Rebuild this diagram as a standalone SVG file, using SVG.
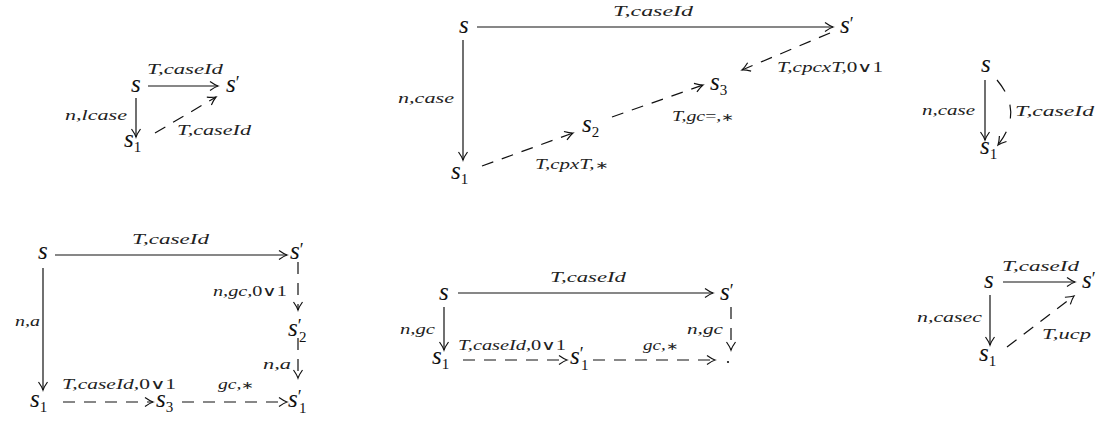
<svg xmlns="http://www.w3.org/2000/svg" width="1097" height="421" viewBox="0 0 1097 421">
<style>
.n{font-family:"Liberation Serif",serif;font-style:italic;font-size:25px;fill:#111}
.l{font-family:"Liberation Serif",serif;font-style:italic;font-size:14px;fill:#222}
.u{font-style:normal}
.a{font-style:normal;font-size:11px}
.sb{font-style:normal;font-size:15px}
.pr{font-style:normal;font-size:18px}
.e{fill:none;stroke:#111;stroke-width:1.2}
.d{stroke-dasharray:12 9}
</style>
<defs>
<marker id="ah" viewBox="-10 -6 12 12" refX="0" refY="0" markerWidth="12" markerHeight="12" markerUnits="userSpaceOnUse" orient="auto">
<path d="M-8,-4.5 Q-3,-1 0,0 Q-3,1 -8,4.5" fill="none" stroke="#111" stroke-width="1.2"/>
</marker>
</defs>
<rect width="1097" height="421" fill="#fff"/>

<g id="connectors">
<line class="e" x1="148" y1="86" x2="218" y2="86" marker-end="url(#ah)"/>
<line class="e" x1="136" y1="98" x2="136" y2="137" marker-end="url(#ah)"/>
<line class="e d" x1="155" y1="133" x2="216" y2="97" marker-end="url(#ah)"/>
<line class="e" x1="477" y1="27" x2="833" y2="27" marker-end="url(#ah)"/>
<line class="e" x1="463" y1="40" x2="463" y2="160" marker-end="url(#ah)"/>
<line class="e d" x1="482" y1="166" x2="573" y2="133" marker-end="url(#ah)"/>
<line class="e d" x1="612" y1="117" x2="703" y2="85" marker-end="url(#ah)"/>
<line class="e d" x1="830" y1="33" x2="742" y2="70" marker-end="url(#ah)"/>
<line class="e" x1="985" y1="80" x2="985" y2="140" marker-end="url(#ah)"/>
<path class="e" d="M997,80 Q1024,112 998,145" stroke-dasharray="14 14" marker-end="url(#ah)"/>
<line class="e" x1="55" y1="255" x2="287" y2="255" marker-end="url(#ah)"/>
<line class="e" x1="43" y1="268" x2="43" y2="390" marker-end="url(#ah)"/>
<line class="e d" x1="63" y1="402" x2="153" y2="402" marker-end="url(#ah)"/>
<line class="e d" x1="182" y1="402" x2="287" y2="402" marker-end="url(#ah)"/>
<line class="e d" x1="298" y1="262" x2="298" y2="310" marker-end="url(#ah)"/>
<line class="e d" x1="298" y1="338" x2="298" y2="378" marker-end="url(#ah)"/>
<line class="e" x1="458" y1="293" x2="713" y2="293" marker-end="url(#ah)"/>
<line class="e" x1="444" y1="307" x2="444" y2="350" marker-end="url(#ah)"/>
<line class="e d" x1="731" y1="307" x2="731" y2="350" marker-end="url(#ah)"/>
<line class="e d" x1="463" y1="360" x2="567" y2="360" marker-end="url(#ah)"/>
<line class="e d" x1="593" y1="360" x2="715" y2="360" marker-end="url(#ah)"/>
<line class="e" x1="1003" y1="282" x2="1075" y2="282" marker-end="url(#ah)"/>
<line class="e" x1="990" y1="295" x2="990" y2="345" marker-end="url(#ah)"/>
<line class="e d" x1="1007" y1="347" x2="1074" y2="296" marker-end="url(#ah)"/>
</g>

<g id="labels">
<text class="l" x="147" y="74" textLength="76" lengthAdjust="spacingAndGlyphs">T,caseId</text>
<text class="l" x="65" y="120" textLength="62" lengthAdjust="spacingAndGlyphs">n,lcase</text>
<text class="l" x="177" y="135" textLength="74" lengthAdjust="spacingAndGlyphs">T,caseId</text>

<text class="l" x="613" y="16" textLength="80" lengthAdjust="spacingAndGlyphs">T,caseId</text>
<text class="l" x="398" y="103" textLength="56" lengthAdjust="spacingAndGlyphs">n,case</text>
<text class="l" x="535" y="169" textLength="73" lengthAdjust="spacingAndGlyphs">T,cpxT,<tspan class="a">∗</tspan></text>
<text class="l" x="672" y="121" textLength="62" lengthAdjust="spacingAndGlyphs">T,gc<tspan class="u">=</tspan>,<tspan class="a">∗</tspan></text>
<text class="l" x="777" y="72" textLength="106" lengthAdjust="spacingAndGlyphs">T,cpcxT,<tspan class="u">0∨1</tspan></text>

<text class="l" x="922" y="115" textLength="53" lengthAdjust="spacingAndGlyphs">n,case</text>
<text class="l" x="1015" y="116" textLength="79" lengthAdjust="spacingAndGlyphs">T,caseId</text>

<text class="l" x="132" y="244" textLength="77" lengthAdjust="spacingAndGlyphs">T,caseId</text>
<text class="l" x="15" y="326" textLength="25" lengthAdjust="spacingAndGlyphs">n,a</text>
<text class="l" x="62" y="389" textLength="114" lengthAdjust="spacingAndGlyphs">T,caseId,<tspan class="u">0∨1</tspan></text>
<text class="l" x="218" y="389" textLength="36" lengthAdjust="spacingAndGlyphs">gc,<tspan class="a">∗</tspan></text>
<text class="l" x="213" y="296" textLength="74" lengthAdjust="spacingAndGlyphs">n,gc,<tspan class="u">0∨1</tspan></text>
<text class="l" x="263" y="369" textLength="28" lengthAdjust="spacingAndGlyphs">n,a</text>

<text class="l" x="550" y="282" textLength="76" lengthAdjust="spacingAndGlyphs">T,caseId</text>
<text class="l" x="400" y="334" textLength="35" lengthAdjust="spacingAndGlyphs">n,gc</text>
<text class="l" x="458" y="350" textLength="108" lengthAdjust="spacingAndGlyphs">T,caseId,<tspan class="u">0∨1</tspan></text>
<text class="l" x="643" y="350" textLength="35" lengthAdjust="spacingAndGlyphs">gc,<tspan class="a">∗</tspan></text>
<text class="l" x="687" y="334" textLength="36" lengthAdjust="spacingAndGlyphs">n,gc</text>

<text class="l" x="1002" y="271" textLength="77" lengthAdjust="spacingAndGlyphs">T,caseId</text>
<text class="l" x="917" y="322" textLength="65" lengthAdjust="spacingAndGlyphs">n,casec</text>
<text class="l" x="1042" y="339" textLength="49" lengthAdjust="spacingAndGlyphs">T,ucp</text>
</g>

<g id="d1-s"><text class="n" x="131" y="92">s</text></g>
<g id="d1-sp"><text class="n" x="226" y="92">s<tspan class="pr" dy="-3">′</tspan></text></g>
<g id="d1-s1"><text class="n" x="124" y="147">s<tspan class="sb" dy="5">1</tspan></text></g>
<g id="d2-s"><text class="n" x="459" y="33">s</text></g>
<g id="d2-sp"><text class="n" x="840" y="33">s<tspan class="pr" dy="-3">′</tspan></text></g>
<g id="d2-s1"><text class="n" x="451" y="179">s<tspan class="sb" dy="5">1</tspan></text></g>
<g id="d2-s2"><text class="n" x="582" y="132">s<tspan class="sb" dy="5">2</tspan></text></g>
<g id="d2-s3"><text class="n" x="710" y="90">s<tspan class="sb" dy="5">3</tspan></text></g>
<g id="d3-s"><text class="n" x="981" y="72">s</text></g>
<g id="d3-s1"><text class="n" x="980" y="154">s<tspan class="sb" dy="5">1</tspan></text></g>
<g id="d4-s"><text class="n" x="38" y="259">s</text></g>
<g id="d4-sp"><text class="n" x="290" y="259">s<tspan class="pr" dy="-3">′</tspan></text></g>
<g id="d4-s1"><text class="n" x="30" y="407">s<tspan class="sb" dy="5">1</tspan></text></g>
<g id="d4-s3"><text class="n" x="156" y="407">s<tspan class="sb" dy="5">3</tspan></text></g>
<g id="d4-s1p"><text class="n" x="288" y="407">s<tspan class="pr" dy="-4">′</tspan><tspan class="sb" x="299" y="413">1</tspan></text></g>
<g id="d4-s2p"><text class="n" x="288" y="336">s<tspan class="pr" dy="-4">′</tspan><tspan class="sb" x="299" y="342">2</tspan></text></g>
<g id="d5-s"><text class="n" x="439" y="300">s</text></g>
<g id="d5-sp"><text class="n" x="720" y="300">s<tspan class="pr" dy="-3">′</tspan></text></g>
<g id="d5-s1"><text class="n" x="432" y="364">s<tspan class="sb" dy="5">1</tspan></text></g>
<g id="d5-s1p"><text class="n" x="570" y="364">s<tspan class="pr" dy="-4">′</tspan><tspan class="sb" x="581" y="370">1</tspan></text></g>
<g id="d5-dot"><circle cx="728" cy="362" r="1.1" fill="#111"/></g>
<g id="d6-s"><text class="n" x="984" y="288">s</text></g>
<g id="d6-sp"><text class="n" x="1082" y="288">s<tspan class="pr" dy="-3">′</tspan></text></g>
<g id="d6-s1"><text class="n" x="979" y="361">s<tspan class="sb" dy="5">1</tspan></text></g>
</svg>
